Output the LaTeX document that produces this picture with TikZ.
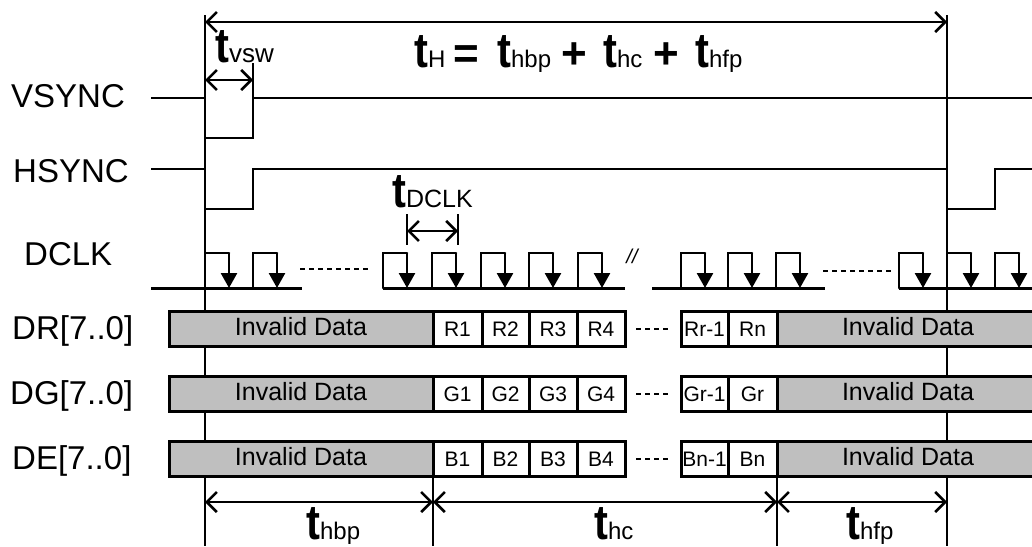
\documentclass[tikz,border=0pt]{standalone}
\usepackage{fontspec}
\usepackage{graphicx}
\setmainfont{Liberation Sans}
\usetikzlibrary{arrows.meta}
\newcommand{\fs}[1]{\fontsize{#1}{#1}\selectfont}
\newcommand{\tlab}[2]{\scalebox{.85}[1]{\fs{49}\bfseries t}{\fs{#1}#2}}
\tikzset{
  sig/.style={line width=2.6pt,black},
  thick line/.style={line width=3pt,black},
  dim/.style={line width=2.6pt,black,{Straight Barb[length=10pt,width=20pt,line width=2.6pt]}-{Straight Barb[length=10pt,width=20pt,line width=2.6pt]}},
  clk/.style={line width=2.6pt,black,-{Triangle[length=15pt,width=16pt]}},
  dots/.style={line width=2.6pt,black,dash pattern=on 5pt off 4pt},
  label/.style={inner sep=0pt,anchor=base west,font=\fs{33}},
  invalid/.style={draw=black,line width=3pt,fill=black!25,inner sep=0pt},
  ttext/.style={inner sep=0pt,anchor=base west},
}
\newcommand{\datarow}[4]{%
  \path[invalid] (169,#1) rectangle (433,#1+35);
  \node[inner sep=0pt,font=\fs{25}] (l#2) at (301,#1+15.5) {Invalid Data};
  \path[invalid] (777,#1) rectangle (1040,#1+35);
  \node[inner sep=0pt,font=\fs{25}] (r#2) at (908,#1+15.5) {Invalid Data};
  \foreach \a/\b/\t in {433/482/#21,482/529/#22,529/577/#23,577/625/#24,681/728/#3,728/777/#4}{
    \path[draw=black,line width=3pt,fill=white] (\a,#1) rectangle (\b,#1+35);
    \node[inner sep=0pt,font=\fs{21}] at ({(\a+\b)/2},#1+18) {\t};
  }
  \draw[dots] (636,#1+18) -- (668,#1+18);
}
\begin{document}
\begin{tikzpicture}[x=1pt,y=-1pt]
\useasboundingbox (0,0) rectangle (1032,546);
\clip (0,0) rectangle (1032,546);
\fill[white] (0,0) rectangle (1032,546);

% reference verticals
\coordinate (top0) at (205,15);
\coordinate (bot0) at (205,546);
\coordinate (top1) at (947,15);
\coordinate (bot1) at (947,546);
\draw[sig] (top0) -- (bot0);
\draw[sig] (top1) -- (bot1);
\draw[sig] (433,476) -- (433,546);
\draw[sig] (777,476) -- (777,546);

% top dimension
\coordinate (da) at (205,22);
\coordinate (db) at (947,22);
\draw[dim] (da) -- (db);
\node[ttext] (eq) at (414,67) {\tlab{24}{H}};
\node[ttext,font=\fs{44}\bfseries] at (453,68) {=};
\node[ttext] at (497,67) {\tlab{24}{hbp}};
\node[ttext,font=\fs{44}\bfseries] at (561,68) {+};
\node[ttext] at (603,67) {\tlab{24}{hc}};
\node[ttext,font=\fs{44}\bfseries] at (653,68) {+};
\node[ttext] at (695,67) {\tlab{24}{hfp}};

% labels
\node[label] (vs) at (11,107) {VSYNC};
\node[label] (hs) at (13,182) {HSYNC};
\node[label] (dc) at (24,265) {DCLK};
\node[label] at (12,339) {DR[7..0]};
\node[label] at (10,404) {DG[7..0]};
\node[label] at (12,469) {DE[7..0]};

% VSYNC, HSYNC
\draw[sig] (151,98) -- (205,98) -- (205,138) -- (253,138) -- (253,98) -- (1032,98);
\draw[sig] (151,169) -- (205,169) -- (205,209) -- (253,209) -- (253,169) -- (947,169) -- (947,209) -- (995,209) -- (995,169) -- (1032,169);

% t_vsw
\node[ttext] at (215,62) {\tlab{26}{vsw}};
\draw[sig] (253,63) -- (253,98);
\draw[dim] (205,80) -- (253,80);

% DCLK
\draw[thick line] (151,288) -- (302,288);
\draw[thick line] (383,288) -- (625,288);
\draw[thick line] (652,288) -- (825,288);
\draw[thick line] (899,288) -- (1032,288);
\foreach \x in {205,253,383,432,481,529,578,681,728,776,899,947,995}{
  \draw[sig,line cap=round] (\x,288) -- (\x,253) -- (\x+24,253);
  \draw[clk] (\x+24,253) -- (\x+24,288);
}
\draw[dots] (300,269) -- (369,269);
\draw[dots] (823,271) -- (892,271);
\node[inner sep=0pt,font=\fs{20}\itshape] at (632,256) {//};

% t_DCLK
\node[ttext] at (392,207) {\tlab{25}{DCLK}};
\draw[sig] (407,214) -- (407,245);
\draw[sig] (458,214) -- (458,245);
\draw[dim] (407,231) -- (458,231);

% data rows
\datarow{311}{R}{Rr-1}{Rn}
\datarow{376}{G}{Gr-1}{Gr}
\datarow{441}{B}{Bn-1}{Bn}

% bottom dimension
\draw[dim] (205,502) -- (433,502);
\draw[dim] (433,502) -- (777,502);
\draw[dim] (777,502) -- (947,502);
\node[ttext] at (306,539.5) {\tlab{24}{hbp}};
\node[ttext] at (594,539.5) {\tlab{24}{hc}};
\node[ttext] at (846,539.5) {\tlab{24}{hfp}};
\end{tikzpicture}
\end{document}
